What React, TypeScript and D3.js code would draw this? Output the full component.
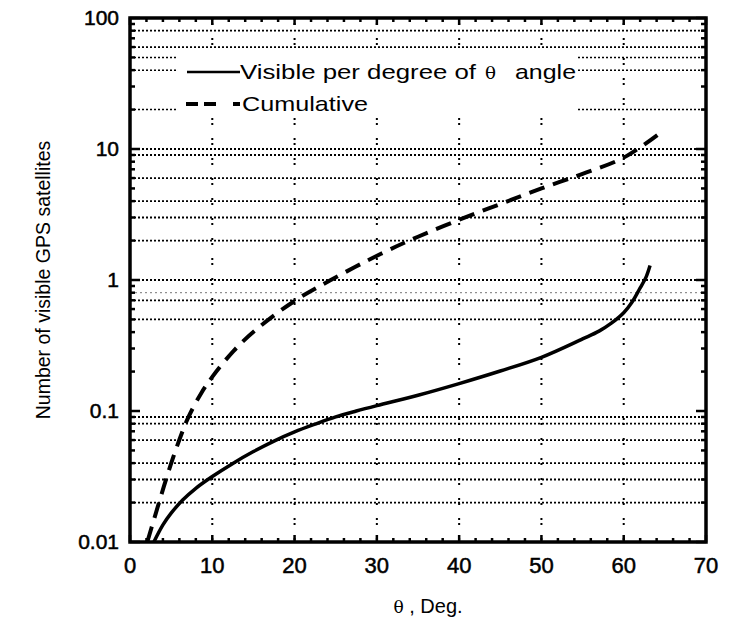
import { useEffect, useRef } from "react";
import * as d3 from "d3";

// values
const angleVisible = [2.9, 4, 5, 6.4, 8, 10, 12.5, 15, 17.5, 20, 22.5, 25, 27.5, 30, 35, 40, 45, 50, 55, 57, 58.5, 60, 61, 62, 62.7, 63.2];
const visiblePerDegree = [0.01, 0.0135, 0.0166, 0.0209, 0.0257, 0.0316, 0.0398, 0.049, 0.0589, 0.0692, 0.0794, 0.0902, 0.1, 0.11, 0.132, 0.162, 0.202, 0.257, 0.355, 0.407, 0.468, 0.562, 0.676, 0.871, 1.047, 1.29];

const angleCumulative = [2.1, 3, 4, 5, 6, 7, 8.6, 10, 12.6, 15.5, 20, 24.4, 30.5, 35, 40, 45, 50, 55, 60, 64.1];
const cumulative = [0.01, 0.0155, 0.0251, 0.0398, 0.0603, 0.0871, 0.135, 0.182, 0.288, 0.427, 0.692, 1.0, 1.585, 2.14, 2.88, 3.8, 5.0, 6.46, 8.6, 12.8];

const xTicks = [0, 10, 20, 30, 40, 50, 60, 70];
const xGrid = [10, 20, 30, 40, 50, 60];
const yTicks = [0.01, 0.1, 1, 10, 100];
const yTickLabels = ["0.01", "0.1", "1", "10", "100"];
// horizontal grid lines that survive in the scan
const gridFull = [80, 60, 10, 9, 6, 4, 3, 2, 1, 0.7, 0.5, 0.09, 0.08, 0.06, 0.04, 0.03, 0.02];
const gridFaint = [0.8];
const gridCut = [50, 40, 20]; // hidden behind the legend

export default function App() {
  const svgRef = useRef<SVGSVGElement>(null);
  const width = 736;
  const height = 626;

  useEffect(() => {
    const svg = d3.select(svgRef.current);
    svg.selectAll("*").remove();

    const left = 130, right = 706, top = 18, bottom = 542;
    const x = d3.scaleLinear().domain([0, 70]).range([left, right]);
    const y = d3.scaleLog().domain([0.01, 100]).range([bottom, top]);
    const font = "Liberation Sans, Arial, sans-serif";

    // header rule
    svg.append("rect").attr("x", 0).attr("y", 0).attr("width", width).attr("height", 3).attr("fill", "#111");

    svg.append("clipPath").attr("id", "plot").append("rect")
      .attr("x", left).attr("y", top).attr("width", right - left).attr("height", bottom - top);

    const grid = svg.append("g");
    grid.selectAll(".hf").data(gridFull).enter().append("line")
      .attr("x1", left).attr("x2", right)
      .attr("y1", (d) => y(d)).attr("y2", (d) => y(d))
      .attr("stroke", "#000").attr("stroke-width", 1.8).attr("stroke-dasharray", "2,2");
    grid.selectAll(".hl").data(gridFaint).enter().append("line")
      .attr("x1", left).attr("x2", right)
      .attr("y1", (d) => y(d)).attr("y2", (d) => y(d))
      .attr("stroke", "#777").attr("stroke-width", 1).attr("stroke-dasharray", "2,3");
    grid.selectAll(".hc").data(gridCut).enter().append("line")
      .attr("x1", left).attr("x2", right)
      .attr("y1", (d) => y(d)).attr("y2", (d) => y(d))
      .attr("stroke", "#000").attr("stroke-width", 1.5).attr("stroke-dasharray", "2,2");
    grid.selectAll(".v").data(xGrid).enter().append("line")
      .attr("x1", (d) => x(d)).attr("x2", (d) => x(d))
      .attr("y1", top).attr("y2", bottom)
      .attr("stroke", "#000").attr("stroke-width", 2).attr("stroke-dasharray", "2,3,2,13");

    // legend box (white) sits over the grid
    svg.append("rect").attr("x", 176).attr("y", 52).attr("width", 402).attr("height", 66).attr("fill", "#fff");

    const plot = svg.append("g").attr("clip-path", "url(#plot)");
    const line = d3.line<[number, number]>()
      .x((d) => x(d[0])).y((d) => y(d[1]))
      .curve(d3.curveCatmullRom.alpha(0.5));

    plot.append("path")
      .attr("d", line(angleCumulative.map((a, i) => [a, cumulative[i]] as [number, number])))
      .attr("fill", "none").attr("stroke", "#000").attr("stroke-width", 4)
      .attr("stroke-dasharray", "16,9");
    plot.append("path")
      .attr("d", line(angleVisible.map((a, i) => [a, visiblePerDegree[i]] as [number, number])))
      .attr("fill", "none").attr("stroke", "#000").attr("stroke-width", 3.5);

    // ticks
    const ticks = svg.append("g").attr("stroke", "#000");
    d3.range(0, 71, 2).forEach((v) => {
      const len = v % 10 === 0 ? 7 : 4;
      ticks.append("line").attr("x1", x(v)).attr("x2", x(v)).attr("y1", bottom).attr("y2", bottom - len).attr("stroke-width", 2.5);
      ticks.append("line").attr("x1", x(v)).attr("x2", x(v)).attr("y1", top).attr("y2", top + len).attr("stroke-width", 2.5);
    });
    const yMinor: number[] = [];
    [0.01, 0.1, 1, 10].forEach((d) => {
      for (let k = 1; k <= 9; k++) yMinor.push(d * k);
    });
    yMinor.push(100);
    yMinor.forEach((v) => {
      const major = yTicks.some((t) => Math.abs(t - v) < 1e-9);
      const len = major ? 10 : 5;
      ticks.append("line").attr("x1", left).attr("x2", left + len).attr("y1", y(v)).attr("y2", y(v)).attr("stroke-width", 2.5);
      ticks.append("line").attr("x1", right).attr("x2", right - len).attr("y1", y(v)).attr("y2", y(v)).attr("stroke-width", 2.5);
    });

    // frame
    svg.append("rect").attr("x", left).attr("y", top).attr("width", right - left).attr("height", bottom - top)
      .attr("fill", "none").attr("stroke", "#000").attr("stroke-width", 3.5);

    // tick labels
    svg.selectAll(".xl").data(xTicks).enter().append("text")
      .attr("x", (d) => x(d)).attr("y", bottom + 31)
      .attr("text-anchor", "middle").attr("font-family", font).attr("font-size", 22)
      .attr("stroke", "#000").attr("stroke-width", 0.5)
      .text((d) => d);
    svg.selectAll(".yl").data(yTicks).enter().append("text")
      .attr("x", 119).attr("y", (d) => y(d) + 7)
      .attr("text-anchor", "end").attr("font-family", font).attr("font-size", 21)
      .attr("stroke", "#000").attr("stroke-width", 0.5)
      .text((d, i) => yTickLabels[i]);

    // axis titles
    svg.append("text")
      .attr("transform", `translate(50, ${(top + bottom) / 2}) rotate(-90)`)
      .attr("text-anchor", "middle").attr("font-family", font).attr("font-size", 19.5)
      .text("Number of visible GPS satellites");
    const xt = svg.append("text")
      .attr("x", 428).attr("y", 613).attr("text-anchor", "middle")
      .attr("font-family", font).attr("font-size", 20);
    xt.append("tspan").attr("font-family", "DejaVu Serif, serif").attr("font-size", 17).text("θ");
    xt.append("tspan").text(" ,  Deg.");

    // legend (scan is stretched sideways, so the texts get explicit lengths)
    const lg = svg.append("g").attr("font-family", font).attr("font-size", 21);
    lg.append("line").attr("x1", 187).attr("x2", 240).attr("y1", 72).attr("y2", 72)
      .attr("stroke", "#000").attr("stroke-width", 2.7);
    lg.append("text").attr("x", 240).attr("y", 79)
      .attr("textLength", 236).attr("lengthAdjust", "spacingAndGlyphs")
      .text("Visible per degree of");
    lg.append("text").attr("x", 485).attr("y", 79)
      .attr("font-family", "DejaVu Serif, serif").attr("font-size", 16)
      .attr("textLength", 11).attr("lengthAdjust", "spacingAndGlyphs")
      .text("θ");
    lg.append("text").attr("x", 515).attr("y", 79)
      .attr("textLength", 61).attr("lengthAdjust", "spacingAndGlyphs")
      .text("angle");
    lg.append("line").attr("x1", 186).attr("x2", 240).attr("y1", 104).attr("y2", 104)
      .attr("stroke", "#000").attr("stroke-width", 4).attr("stroke-dasharray", "12,6,12,17,7");
    lg.append("text").attr("x", 242).attr("y", 111)
      .attr("textLength", 126).attr("lengthAdjust", "spacingAndGlyphs")
      .text("Cumulative");
  }, []);

  return <svg ref={svgRef} width={width} height={height} style={{ display: "block", margin: "-8px" }} />;
}
